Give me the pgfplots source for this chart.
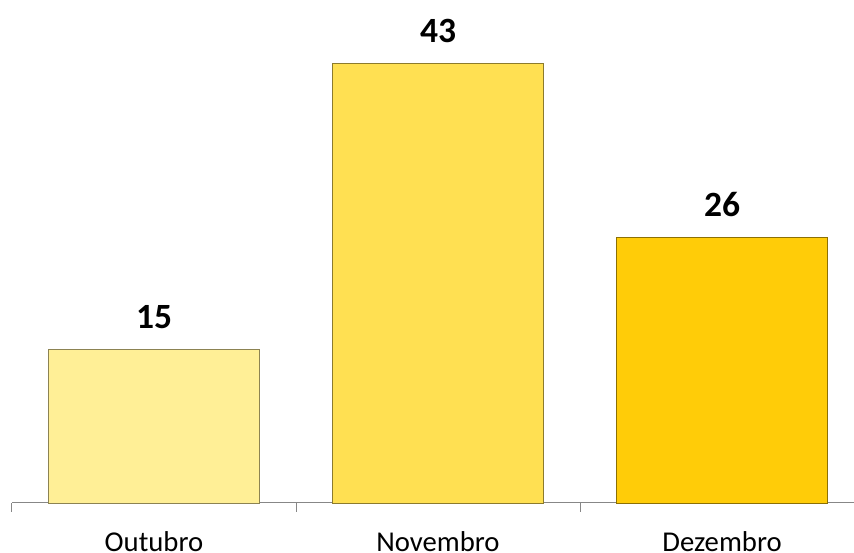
\documentclass[border=0pt]{standalone}
\usepackage{pgfplots}
\pgfplotsset{compat=1.18}
\usepackage{fontspec}
\setmainfont{Carlito}
\definecolor{cOut}{RGB}{255,239,150}
\definecolor{cNov}{RGB}{255,224,82}
\definecolor{cDez}{RGB}{255,204,8}
\definecolor{axgray}{RGB}{135,135,135}
\begin{document}
\begin{tikzpicture}[x=1pt,y=1pt]
\useasboundingbox (0,0) rectangle (854,553);
\begin{axis}[
  at={(12pt,50pt)}, anchor=south west,
  scale only axis, width=852pt, height=503pt,
  xmin=-0.5, xmax=2.5, ymin=0, ymax=49.2,
  axis y line=none, axis x line*=bottom,
  axis line style={axgray, line width=1pt},
  x axis line style={-},
  xtick={0,1,2}, xticklabels={Outubro,Novembro,Dezembro},
  major x tick style={draw=none},
  minor xtick={-0.5,0.5,1.5,2.5},
  minor x tick style={axgray, line width=1pt},
  minor tick length=9pt,
  tick align=outside,
  xticklabel style={font=\fontsize{28.7}{30}\selectfont, anchor=base, yshift=-44pt},
  typeset ticklabels with strut=false,
  ybar, bar width=211pt,
  nodes near coords={\pgfmathprintnumber[assume math mode=true]{\pgfplotspointmeta}},
  every node near coord/.append style={font=\bfseries\fontsize{35.5}{38}\selectfont, anchor=base, yshift=21pt},
  clip=false,
]
\addplot[bar shift=0pt, fill=cOut, draw=black!45!cOut, line width=0.8pt] coordinates {(0,15)};
\addplot[bar shift=0pt, fill=cNov, draw=black!45!cNov, line width=0.8pt] coordinates {(1,43)};
\addplot[bar shift=0pt, fill=cDez, draw=black!45!cDez, line width=0.8pt] coordinates {(2,26)};
\end{axis}
\end{tikzpicture}
\end{document}
